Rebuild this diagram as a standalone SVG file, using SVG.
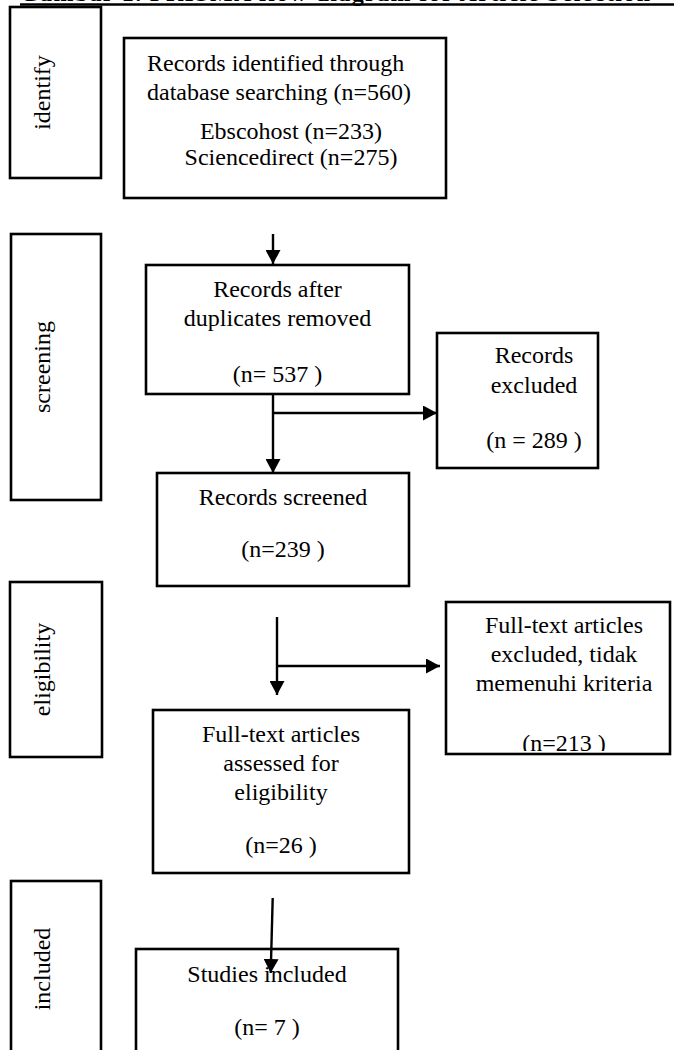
<svg xmlns="http://www.w3.org/2000/svg" width="674" height="1050" viewBox="0 0 674 1050">
  <style>
    .box { fill: #ffffff; stroke: #000000; stroke-width: 2.6; }
    .lbl { font-family: "Liberation Serif", "Times New Roman", serif; font-size: 24px; fill: #000000; }
    .c { text-anchor: middle; }
    .stage { font-family: "Liberation Serif", "Times New Roman", serif; font-size: 24px; fill: #000000; text-anchor: middle; }
    .title { font-family: "Liberation Serif", "Times New Roman", serif; font-size: 24px; font-weight: bold; fill: #000000; }
    .link { fill: none; stroke: #000000; stroke-width: 2.4; }
  </style>
  <defs>
    <marker id="arrow" markerUnits="userSpaceOnUse" markerWidth="15" markerHeight="15" refX="14" refY="7.5" orient="auto">
      <path d="M0,0 L14,7.5 L0,15 Z" fill="#000000"/>
    </marker>
    <clipPath id="clip-excl">
      <rect x="446" y="600" width="228" height="151"/>
    </clipPath>
  </defs>
  <rect width="674" height="1050" fill="#ffffff"/>

  <!-- heading, running off the top edge -->
  <g id="heading">
    <text class="title" x="20" y="1" textLength="630" lengthAdjust="spacing">Gambar 1. PRISMA flow diagram for Article Selection</text>
    <line x1="20" y1="4.5" x2="674" y2="4.5" stroke="#000000" stroke-width="2.6"/>
  </g>

  <!-- stage labels -->
  <g id="stage-identify">
    <rect class="box" x="10" y="7" width="91" height="171"/>
    <text class="stage" transform="translate(50,92.5) rotate(-90)">identify</text>
  </g>
  <g id="stage-screening">
    <rect class="box" x="11" y="234" width="90" height="266"/>
    <text class="stage" transform="translate(50,367) rotate(-90)">screening</text>
  </g>
  <g id="stage-eligibility">
    <rect class="box" x="10" y="582" width="92" height="175"/>
    <text class="stage" transform="translate(50,669.5) rotate(-90)">eligibility</text>
  </g>
  <g id="stage-included">
    <rect class="box" x="11" y="881" width="90" height="180"/>
    <text class="stage" transform="translate(50,969) rotate(-90)">included</text>
  </g>

  <!-- flow boxes -->
  <g id="identified">
    <rect class="box" x="124" y="38" width="322" height="160"/>
    <text class="lbl" x="147" y="71">Records identified through</text>
    <text class="lbl" x="147" y="100">database searching (n=560)</text>
    <text class="lbl c" x="291" y="139">Ebscohost (n=233)</text>
    <text class="lbl c" x="291" y="165">Sciencedirect (n=275)</text>
  </g>
  <g id="deduplicated">
    <rect class="box" x="146" y="265" width="263" height="129"/>
    <text class="lbl c" x="277.5" y="297">Records after</text>
    <text class="lbl c" x="277.5" y="326">duplicates removed</text>
    <text class="lbl c" x="277.5" y="382">(n= 537 )</text>
  </g>
  <g id="excluded">
    <rect class="box" x="437" y="333" width="161" height="135"/>
    <text class="lbl c" x="534" y="363">Records</text>
    <text class="lbl c" x="534" y="393">excluded</text>
    <text class="lbl c" x="534" y="448">(n = 289 )</text>
  </g>
  <g id="screened">
    <rect class="box" x="157" y="473" width="252" height="113"/>
    <text class="lbl c" x="283" y="505">Records screened</text>
    <text class="lbl c" x="283" y="557">(n=239 )</text>
  </g>
  <g id="fulltext-excluded">
    <rect class="box" x="446" y="602" width="224" height="152"/>
    <text class="lbl c" x="564" y="633">Full-text articles</text>
    <text class="lbl c" x="564" y="662">excluded, tidak</text>
    <text class="lbl c" x="564" y="691">memenuhi kriteria</text>
    <text class="lbl c" x="564" y="751" clip-path="url(#clip-excl)">(n=213 )</text>
  </g>
  <g id="fulltext-assessed">
    <rect class="box" x="153" y="710" width="256" height="163"/>
    <text class="lbl c" x="281" y="742">Full-text articles</text>
    <text class="lbl c" x="281" y="771">assessed for</text>
    <text class="lbl c" x="281" y="800">eligibility</text>
    <text class="lbl c" x="281" y="853">(n=26 )</text>
  </g>
  <g id="studies-included">
    <rect class="box" x="136" y="949" width="262" height="120"/>
    <text class="lbl c" x="267" y="982">Studies included</text>
    <text class="lbl c" x="267" y="1035">(n= 7 )</text>
  </g>

  <!-- connectors -->
  <g id="connectors">
    <line class="link" x1="273" y1="234" x2="273" y2="264" marker-end="url(#arrow)"/>
    <line class="link" x1="273" y1="394" x2="273" y2="473" marker-end="url(#arrow)"/>
    <line class="link" x1="273" y1="413" x2="437" y2="413" marker-end="url(#arrow)"/>
    <line class="link" x1="277" y1="617" x2="277" y2="695" marker-end="url(#arrow)"/>
    <line class="link" x1="277" y1="666" x2="440" y2="666" marker-end="url(#arrow)"/>
    <line class="link" x1="272.7" y1="898" x2="270.7" y2="973" marker-end="url(#arrow)"/>
  </g>
</svg>
